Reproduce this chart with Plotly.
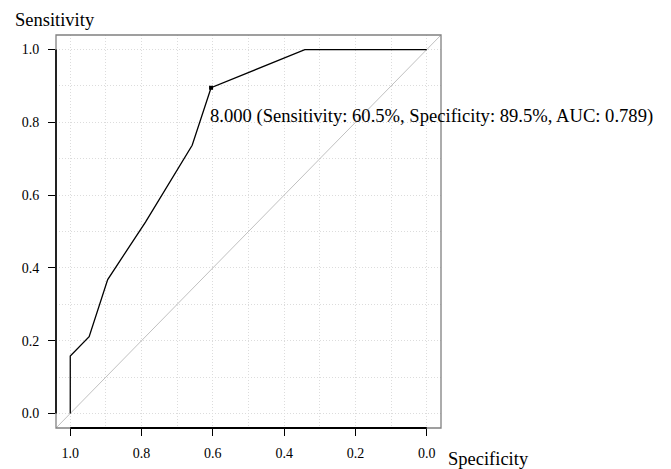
import plotly.graph_objects as go

# ROC curve data (x = specificity axis reversed, y = sensitivity)
specificity = [1.0, 1.0, 0.947, 0.895, 0.789, 0.658, 0.605, 0.342, 0.0]
sensitivity = [0.0, 0.158, 0.211, 0.368, 0.526, 0.737, 0.895, 1.0, 1.0]
best_spec = [0.605]
best_sens = [0.895]
best_label = "8.000 (Sensitivity: 60.5%, Specificity: 89.5%, AUC: 0.789)"
tick_vals = [1.0, 0.8, 0.6, 0.4, 0.2, 0.0]
tick_text = ["1.0", "0.8", "0.6", "0.4", "0.2", "0.0"]

FONT = "Liberation Serif"
lo, hi = -0.04, 1.04

fig = go.Figure()
# chance diagonal (sensitivity = 1 - specificity) across the whole box
fig.add_trace(go.Scatter(x=[hi, lo], y=[1 - hi, 1 - lo], mode="lines",
                         line=dict(color="#c0c0c0", width=1), hoverinfo="skip",
                         showlegend=False))
fig.add_trace(go.Scatter(x=specificity, y=sensitivity, mode="lines",
                         line=dict(color="black", width=1.3), showlegend=False))
fig.add_trace(go.Scatter(x=best_spec, y=best_sens, mode="markers",
                         marker=dict(color="black", size=4, symbol="square"),
                         showlegend=False))

fig.add_annotation(x=best_spec[0], y=best_sens[0], text=best_label, showarrow=False,
                   xanchor="left", yanchor="middle", xshift=-3, yshift=-28,
                   font=dict(family=FONT, size=18.6, color="black"))

axis_common = dict(
    tickvals=tick_vals, ticktext=tick_text, ticks="outside", ticklen=7,
    tickcolor="black", tickwidth=1, showline=False, zeroline=False,
    showgrid=True, gridcolor="#dcdcdc", griddash="1px,2px", gridwidth=1,
    minor=dict(dtick=0.1, tick0=0, showgrid=True, gridcolor="#dcdcdc",
               griddash="1px,2px", ticks=""),
    tickfont=dict(family=FONT, size=14, color="black"),
    range=[lo, hi], automargin=False,
)
fig.update_xaxes(**axis_common)
fig.update_xaxes(range=[hi, lo], ticklabelstandoff=5)
fig.update_yaxes(**axis_common)
fig.update_yaxes(ticklabelstandoff=6)

# gray box
fig.add_shape(type="rect", xref="paper", yref="paper", x0=0, x1=1, y0=0, y1=1,
              line=dict(color="#808080", width=1.3), layer="above")
# black axis lines spanning 0..1
fig.add_shape(type="line", xref="x", yref="paper", x0=1, x1=0, y0=0, y1=0,
              line=dict(color="black", width=2.2), layer="above")
fig.add_shape(type="line", xref="paper", yref="y", x0=0, x1=0, y0=0, y1=1,
              line=dict(color="black", width=1.6), layer="above")

fig.add_annotation(xref="paper", yref="paper", x=-0.1128, y=1.0373, text="Sensitivity",
                   showarrow=False, xanchor="left", yanchor="middle",
                   font=dict(family=FONT, size=18.5, color="black"))
fig.add_annotation(xref="paper", yref="paper", x=1.013, y=-0.078, text="Specificity",
                   showarrow=False, xanchor="left", yanchor="middle",
                   font=dict(family=FONT, size=18.5, color="black"))

fig.update_layout(width=671, height=469, plot_bgcolor="white", paper_bgcolor="white",
                  margin=dict(l=55.5, r=230, t=34.7, b=40.7), showlegend=False)

fig.write_html("out.html", config={"displayModeBar": False},
               post_script="document.body.style.margin='0';")
